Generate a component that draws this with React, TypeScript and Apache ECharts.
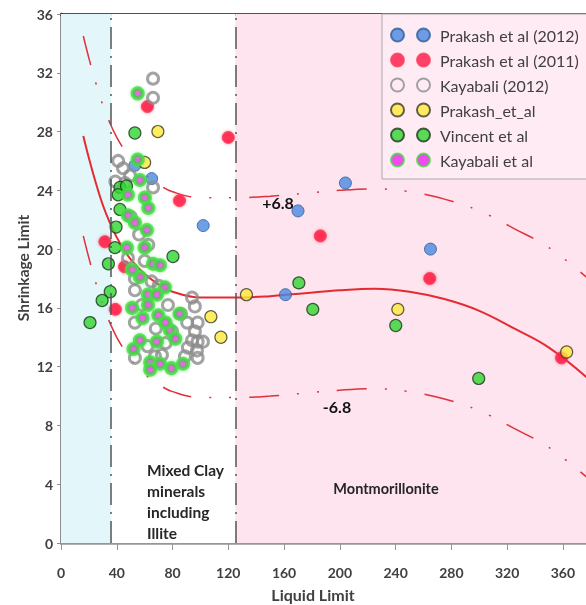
import React, { useEffect, useRef } from "react";
import * as echarts from "echarts";

const FONT = "Lato, 'Noto Sans', sans-serif";

// Canvas is wider than the window; the plot runs past the right edge
const CHART_W = 640;
const CHART_H = 605;
const PLOT_RIGHT_EDGE = 588;

// Axis extents (Liquid Limit on x, Shrinkage Limit on y)
const LL_MAX = 378;
const LL_STEP = 40;
const SL_MAX = 36;
const SL_STEP = 4;

// Soil groups shaded behind the points: [from LL, to LL, colour]
const zoneFrom = [0, 36, 125];
const zoneTo = [36, 125, LL_MAX];
const zoneColor = ["#e3f6fa", "#ffffff", "#fde4ee"];
const zoneDividers = [36, 125];

// Scatter data: [liquid limit, shrinkage limit]
const prakash2012 = [
  [204, 24.5], [170, 22.6], [102, 21.6], [265, 20.0], [161, 16.9], [53, 25.7], [65, 24.8],
];
const prakash2011 = [
  [62, 29.7], [120, 27.6], [85, 23.3], [31.5, 20.5], [45.6, 18.8], [39, 15.9],
  [186, 20.9], [264.5, 18.0], [359, 12.6],
];
const kayabali2012 = [
  [66, 31.6], [66, 30.3], [41, 26.0], [44.5, 25.5], [49.5, 25.0], [39, 24.6], [46, 24.5],
  [66, 24.2], [62.6, 20.3], [53, 18.0], [53, 17.2], [65, 17.8], [76.7, 16.2], [94, 16.7],
  [96, 16.1], [53, 15.0], [79.6, 14.4], [90.5, 15.0], [98, 15.0], [96, 14.4], [98, 13.7],
  [94, 13.8], [91, 13.3], [97.5, 13.1], [98, 12.6], [53, 12.6], [72.4, 12.8], [67.4, 12.7],
  [88.9, 12.7], [101.8, 13.7], [50, 22.2], [56, 21.0], [48, 19.4], [60, 19.2], [70, 17.5],
  [58, 16.2], [68, 14.6], [62, 13.4], [86, 15.6], [75, 13.6],
];
const prakashEtAl = [
  [69.5, 28.0], [60, 25.9], [133, 16.9], [107.5, 15.4], [114.7, 14.0], [241.6, 15.9], [362.7, 13.0],
];
const vincentEtAl = [
  [53, 27.9], [42.3, 24.2], [47, 24.3], [41, 23.7], [42.3, 22.7], [39.5, 21.5], [38.7, 20.1],
  [34, 19.0], [35.3, 17.1], [29.5, 16.5], [20.8, 15.0], [80.3, 19.5], [170.6, 17.7],
  [180.6, 15.9], [240.1, 14.8], [299.6, 11.2],
];
const kayabaliEtAl = [
  [55, 30.6], [55, 26.1], [56.6, 24.7], [48, 23.7], [60.2, 23.5], [48, 22.3], [62.6, 22.8],
  [53, 21.8], [61.6, 21.3], [47.3, 20.1], [66, 19.0], [71, 18.9], [56.6, 18.1], [74.5, 17.4],
  [62.4, 16.9], [68.8, 16.9], [62.4, 16.2], [69.8, 15.5], [58.5, 15.3], [85, 15.6], [78, 14.5],
  [56.6, 13.8], [68.8, 13.7], [82, 13.9], [64, 12.3], [71, 12.2], [64, 11.8], [79.2, 11.9],
  [87.5, 12.2], [51, 18.6], [51, 16.0], [52, 13.2], [60, 20.1], [75, 15.0],
];

// Trend line through the data, and the ±6.8 band around it
const fitLL = [16, 20, 25, 30, 35, 40, 45, 50, 60, 70, 80, 100, 125, 150, 175, 200, 225, 250, 275, 300, 325, 350, 378];
const fitSL = [27.7, 26.2, 24.5, 23.0, 21.8, 20.8, 20.0, 19.3, 18.3, 17.6, 17.1, 16.7, 16.7, 16.8, 17.0, 17.2, 17.3, 17.1, 16.6, 15.8, 14.6, 13.3, 11.2];
const BAND = 6.8;

const TWIN_DOTS =
  "path://M0,6.5a6.5,6.5 0 1,0 13,0a6.5,6.5 0 1,0 -13,0Z M26,6.5a6.5,6.5 0 1,0 13,0a6.5,6.5 0 1,0 -13,0Z";

export default function App() {
  const ref = useRef<HTMLDivElement>(null);

  useEffect(() => {
    if (!ref.current) return;
    const chart = echarts.init(ref.current, undefined, { renderer: "svg" });

    const fit = fitLL.map((x, i) => [x, fitSL[i]]);
    const upper = fitLL.map((x, i) => [x, fitSL[i] + BAND]);
    const lower = fitLL.map((x, i) => [x, fitSL[i] - BAND]);
    const bandDash = [30, 18, 2, 18, 2, 18];

    const scatter = (name: string, data: number[][], itemStyle: any, size = 12) => ({
      type: "scatter",
      name,
      data,
      symbolSize: size,
      itemStyle,
      z: 3,
    });

    const option: any = {
      animation: false,
      grid: {
        left: 61,
        top: 14,
        right: CHART_W - PLOT_RIGHT_EDGE,
        bottom: 62,
        show: false,
      },
      xAxis: [
        {
          type: "value",
          min: 0,
          max: LL_MAX,
          interval: LL_STEP,
          splitLine: { show: false },
          axisLine: { show: true, lineStyle: { color: "#969696", width: 2.5 } },
          axisTick: { show: true, length: 7, lineStyle: { color: "#969696", width: 1 } },
          axisLabel: {
            margin: 29,
            color: "#404040",
            fontFamily: FONT,
            fontWeight: "bold",
            fontSize: 14,
            verticalAlign: "middle",
            formatter: (v: number) => (v % LL_STEP === 0 ? String(v) : ""),
          },
        },
        {
          // plain dark frame line along the top of the plot
          type: "value",
          position: "top",
          min: 0,
          max: LL_MAX,
          splitLine: { show: false },
          axisTick: { show: false },
          axisLabel: { show: false },
          axisLine: { show: true, lineStyle: { color: "#1a1a1a", width: 2.5 } },
        },
      ],
      yAxis: {
        type: "value",
        min: 0,
        max: SL_MAX,
        interval: SL_STEP,
        splitLine: { show: false },
        axisLine: { show: true, lineStyle: { color: "#8c8c8c", width: 3 } },
        axisTick: { show: true, length: 4, lineStyle: { color: "#8c8c8c" } },
        axisLabel: {
          margin: 8,
          color: "#404040",
          fontFamily: FONT,
          fontWeight: "bold",
          fontSize: 14,
        },
      },
      legend: {
        orient: "vertical",
        left: 382,
        top: 14,
        padding: [13, 30, 11, 8],
        itemGap: 9,
        itemWidth: 39,
        itemHeight: 13,
        icon: TWIN_DOTS,
        backgroundColor: "rgba(255,236,243,0.92)",
        borderColor: "#aaaaaa",
        borderWidth: 1,
        textStyle: { color: "#404040", fontFamily: FONT, fontSize: 16, padding: [0, 0, 0, 5] },
        data: [
          "Prakash et al (2012)",
          "Prakash et al (2011)",
          "Kayabali (2012)",
          "Prakash_et_al",
          "Vincent et al",
          "Kayabali et al",
        ],
      },
      series: [
        {
          type: "line",
          name: "zones",
          data: [],
          silent: true,
          z: 0,
          markArea: {
            silent: true,
            data: zoneFrom.map((from, i) => [
              { xAxis: from, yAxis: 0, itemStyle: { color: zoneColor[i] } },
              { xAxis: zoneTo[i], yAxis: SL_MAX },
            ]),
          },
          markLine: {
            silent: true,
            symbol: "none",
            label: { show: false },
            lineStyle: { color: "#555555", width: 1.5, type: [22, 7, 2, 7] },
            data: zoneDividers.map((x) => ({ xAxis: x })),
          },
        },
        {
          type: "line",
          name: "fit",
          data: fit,
          smooth: 0.4,
          symbol: "none",
          silent: true,
          z: 2,
          lineStyle: { color: "#e62a32", width: 2 },
        },
        {
          type: "line",
          name: "upper",
          data: upper,
          smooth: 0.4,
          symbol: "none",
          silent: true,
          z: 2,
          lineStyle: { color: "#e0303a", width: 1.5, type: bandDash },
        },
        {
          type: "line",
          name: "lower",
          data: lower,
          smooth: 0.4,
          symbol: "none",
          silent: true,
          z: 2,
          lineStyle: { color: "#e0303a", width: 1.5, type: bandDash },
        },
        scatter("Prakash et al (2012)", prakash2012, {
          color: "#4a88e0",
          borderColor: "#2d5c9e",
          borderWidth: 1,
        }),
        scatter("Prakash et al (2011)", prakash2011, {
          color: "#ff1744",
          borderColor: "#ff3a5c",
          borderWidth: 1,
          shadowBlur: 3,
          shadowColor: "rgba(255,60,90,0.7)",
        }),
        scatter(
          "Kayabali (2012)",
          kayabali2012,
          { color: "rgba(255,255,255,0)", borderColor: "#8c8c8c", borderWidth: 3 },
          11
        ),
        scatter("Prakash_et_al", prakashEtAl, {
          color: "#ffe83a",
          borderColor: "#3a3a22",
          borderWidth: 1.2,
        }),
        scatter("Vincent et al", vincentEtAl, {
          color: "#2fd62f",
          borderColor: "#1c361c",
          borderWidth: 1.2,
        }),
        scatter(
          "Kayabali et al",
          kayabaliEtAl,
          {
            color: "#ee22ee",
            borderColor: "#3fe03f",
            borderWidth: 4,
            shadowBlur: 3,
            shadowColor: "rgba(80,230,80,0.8)",
          },
          10
        ),
      ],
      graphic: [
        {
          type: "text",
          x: 23,
          y: 268,
          rotation: Math.PI / 2,
          z: 10,
          style: {
            text: "Shrinkage Limit",
            align: "center",
            verticalAlign: "middle",
            font: `bold 15.5px ${FONT}`,
            fill: "#404040",
          },
        },
        {
          type: "text",
          x: 313,
          y: 594,
          z: 10,
          style: {
            text: "Liquid Limit",
            align: "center",
            verticalAlign: "middle",
            font: `bold 16px ${FONT}`,
            fill: "#404040",
          },
        },
        {
          type: "text",
          x: 147,
          y: 459,
          z: 10,
          style: {
            text: "Mixed Clay\nminerals\nincluding\nIllite",
            align: "left",
            verticalAlign: "top",
            lineHeight: 21,
            font: `bold 15.5px ${FONT}`,
            fill: "#262626",
          },
        },
        {
          type: "text",
          x: 386,
          y: 488,
          z: 10,
          style: {
            text: "Montmorillonite",
            align: "center",
            verticalAlign: "middle",
            font: `bold 14.5px ${FONT}`,
            fill: "#262626",
          },
        },
        {
          type: "text",
          x: 278,
          y: 202,
          z: 10,
          style: {
            text: "+6.8",
            align: "center",
            verticalAlign: "middle",
            font: `bold 16px ${FONT}`,
            fill: "#111111",
          },
        },
        {
          type: "text",
          x: 337,
          y: 406,
          z: 10,
          style: {
            text: "-6.8",
            align: "center",
            verticalAlign: "middle",
            font: `bold 16px ${FONT}`,
            fill: "#111111",
          },
        },
      ],
    };

    chart.setOption(option);
    return () => chart.dispose();
  }, []);

  return (
    <div
      ref={ref}
      style={{ position: "fixed", left: 0, top: 0, width: CHART_W, height: CHART_H }}
    />
  );
}
